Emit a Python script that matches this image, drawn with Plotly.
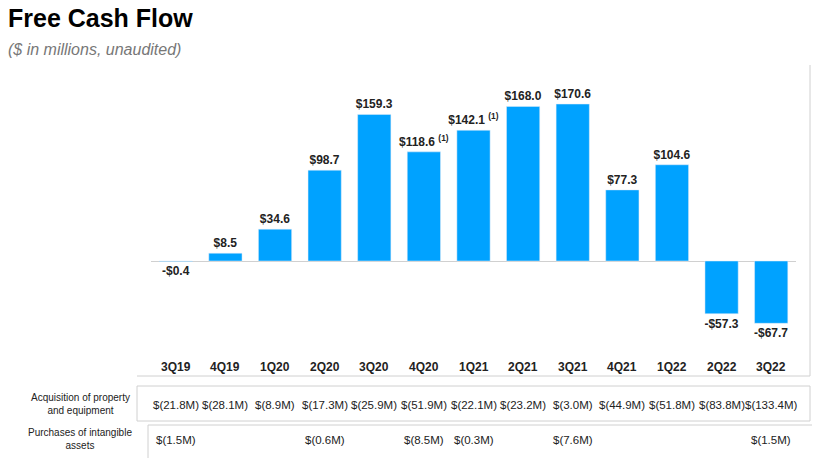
import plotly.graph_objects as go

quarters = ["3Q19", "4Q19", "1Q20", "2Q20", "3Q20", "4Q20", "1Q21",
            "2Q21", "3Q21", "4Q21", "1Q22", "2Q22", "3Q22"]
fcf = [-0.4, 8.5, 34.6, 98.7, 159.3, 118.6, 142.1, 168.0, 170.6, 77.3, 104.6, -57.3, -67.7]
footnotes = ["", "", "", "", "", "(1)", "(1)", "", "", "", "", "", ""]
capex = ["$(21.8M)", "$(28.1M)", "$(8.9M)", "$(17.3M)", "$(25.9M)", "$(51.9M)", "$(22.1M)",
         "$(23.2M)", "$(3.0M)", "$(44.9M)", "$(51.8M)", "$(83.8M)", "$(133.4M)"]
intangibles = ["$(1.5M)", "", "", "$(0.6M)", "", "$(8.5M)", "$(0.3M)",
               "", "$(7.6M)", "", "", "", "$(1.5M)"]

OFF = 8  # page body margin
W, H = 820 - OFF, 458 - OFF
L, R, T, B = 151, 796, 80, 350  # plot area in reference pixels

def px(x):
    return (x - L) / (R - L)

def py(y):
    return (B - y) / (B - T)

labels = []
for v, f in zip(fcf, footnotes):
    s = ("-$%.1f" % -v) if v < 0 else ("$%.1f" % v)
    if f:
        s += " <sup>%s</sup>" % f
    labels.append("<b>%s</b>" % s)

fig = go.Figure(go.Bar(
    x=quarters, y=fcf, marker_color="#00a2ff", width=0.67,
    text=labels, textposition="outside", cliponaxis=False, constraintext="none",
    textfont=dict(size=12, color="#222", family="Arial, Liberation Sans"),
))

ann = [
    dict(text="<b>Free Cash Flow</b>", x=px(6), y=py(18), xanchor="left", yanchor="middle",
         font=dict(size=25, color="#000")),
    dict(text="<i>($ in millions, unaudited)</i>", x=px(6), y=py(50), xanchor="left",
         yanchor="middle", font=dict(size=16, color="#777")),
    dict(text="Acquisition of property<br>and equipment", x=px(80), y=py(404),
         xanchor="center", yanchor="middle", font=dict(size=10, color="#222")),
    dict(text="Purchases of intangible<br>assets", x=px(80), y=py(439),
         xanchor="center", yanchor="middle", font=dict(size=10, color="#222")),
]
for i, q in enumerate(quarters):
    xc = L + (i + 0.5) * (R - L) / len(quarters)
    ann.append(dict(text="<b>%s</b>" % q, x=px(xc), y=py(367), yanchor="middle",
                    font=dict(size=12, color="#222")))
    ann.append(dict(text=capex[i], x=px(xc), y=py(405), yanchor="middle",
                    font=dict(size=11.5, color="#222")))
    if intangibles[i]:
        ann.append(dict(text=intangibles[i], x=px(xc), y=py(440), yanchor="middle",
                        font=dict(size=11.5, color="#222")))
for a in ann:
    a.update(xref="paper", yref="paper", showarrow=False)
    a.setdefault("xanchor", "center")

grey = dict(color="#d0d0d0", width=1)
shapes = [
    dict(type="line", x0=px(810), x1=px(810), y0=py(65), y1=py(376), line=grey),
    dict(type="line", x0=px(137), x1=px(810), y0=py(376), y1=py(376), line=grey),
    dict(type="rect", x0=px(137), x1=px(810), y0=py(386), y1=py(421), line=grey),
    dict(type="line", x0=px(148), x1=px(820), y0=py(425), y1=py(425), line=grey),
    dict(type="line", x0=px(148), x1=px(148), y0=py(425), y1=py(458), line=grey),
]
for s in shapes:
    s.update(xref="paper", yref="paper")

fig.update_layout(
    width=W, height=H,
    margin=dict(l=L - OFF, r=W - (R - OFF), t=T - OFF, b=H - (B - OFF)),
    plot_bgcolor="white", paper_bgcolor="white", showlegend=False,
    font=dict(family="Arial, Liberation Sans, sans-serif"),
    xaxis=dict(showticklabels=False, showgrid=False, zeroline=False, fixedrange=True),
    yaxis=dict(range=[-96.7, 196.7], visible=True, showticklabels=False, showgrid=False,
               zeroline=True, zerolinecolor="#d0d0d0", zerolinewidth=1),
    annotations=ann, shapes=shapes,
)
fig.write_html("out.html")
